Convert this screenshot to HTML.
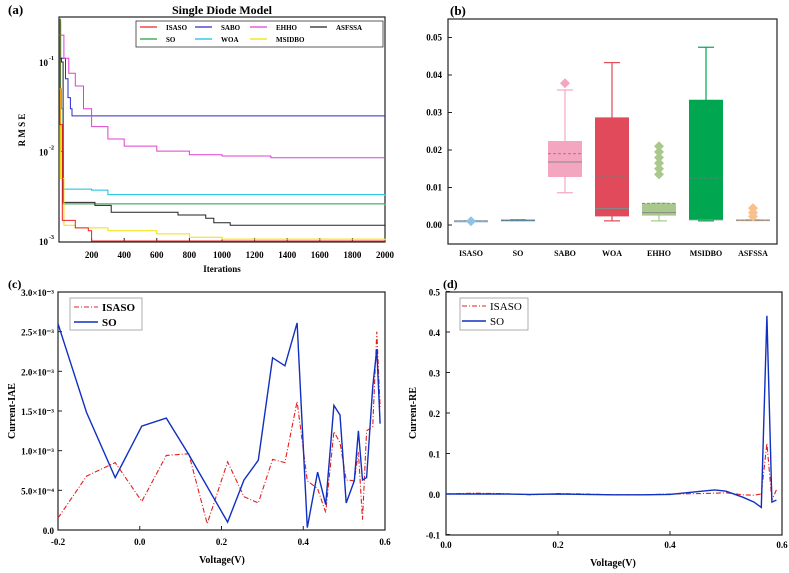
<!DOCTYPE html>
<html><head><meta charset="utf-8"><style>
body{margin:0;background:#fff}
svg{display:block;font-family:"Liberation Serif",serif;font-weight:bold}
</style></head><body>
<svg id="s" width="789" height="573" viewBox="0 0 789 573"></svg>
<script>
// ---- Panel (a) data: convergence breakpoints [iteration, RMSE]
const isasoIt=[0,5,20,100,180,200,2000];
const isasoV=[0.3,0.02,0.0017,0.0014,0.0013,0.001,0.001];
const soIt=[0,10,25,2000];const soV=[0.3,0.01,0.0026,0.0025];
const saboIt=[0,10,20,40,55,70,80,2000];const saboV=[0.28,0.11,0.11,0.065,0.04,0.03,0.025,0.025];
const woaIt=[0,8,15,25,200,300,2000];const woaV=[0.2,0.05,0.03,0.0038,0.0037,0.0033,0.0032];
const ehhoIt=[0,30,60,100,150,200,300,400,600,800,1000,1300,2000];
const ehhoV=[0.2,0.11,0.075,0.054,0.03,0.019,0.0138,0.0115,0.0101,0.0092,0.0089,0.0085,0.0085];
const msidboIt=[0,10,30,100,300,600,800,1000,2000];const msidboV=[0.05,0.005,0.0015,0.0014,0.0013,0.0012,0.0011,0.00105,0.00102];
const asfssaIt=[0,15,25,220,320,730,900,950,1050,2000];
const asfssaV=[0.11,0.1,0.0027,0.0025,0.0021,0.00195,0.0018,0.0016,0.0015,0.00148];
// ---- Panel (b) box data
const boxCats=["ISASO","SO","SABO","WOA","EHHO","MSIDBO","ASFSSA"];
const boxLo=[0.0010,0.0012,0.0086,0.0011,0.0011,0.0011,0.0012];
const boxQ1=[0.0010,0.0012,0.0128,0.0023,0.0025,0.0013,0.0012];
const boxMed=[0.0011,0.0013,0.0168,0.0044,0.0033,0.0014,0.0013];
const boxMean=[0.0011,0.0013,0.019,0.013,0.0058,0.0125,0.0013];
const boxQ3=[0.0011,0.0014,0.0224,0.0287,0.0058,0.0334,0.0014];
const boxHi=[0.0011,0.0014,0.036,0.0433,0.0058,0.0474,0.0014];
const boxOut=[[0.001],[],[0.0378],[],[0.0135,0.015,0.0165,0.018,0.0195,0.021],[],[0.0023,0.0033,0.0045]];
const boxCol=["#8dc3e8","#1f8fc8","#f4a6c0","#e04a5a","#a8c88c","#00a650","#f8c08a"];
// ---- Panel (c) IAE
const cV=[-0.2,-0.13,-0.06,0.005,0.065,0.12,0.165,0.215,0.255,0.29,0.325,0.355,0.385,0.41,0.435,0.455,0.475,0.49,0.505,0.525,0.535,0.545,0.555,0.57,0.58,0.588];
const cIsaso=[0.15,0.68,0.85,0.36,0.94,0.96,0.08,0.86,0.42,0.34,0.89,0.85,1.62,0.62,0.52,0.22,1.24,1.1,0.63,0.62,0.98,0.13,1.25,1.3,2.5,1.55];
const cSoV=[-0.2,-0.13,-0.06,0.005,0.065,0.12,0.215,0.255,0.29,0.325,0.355,0.385,0.41,0.435,0.455,0.475,0.49,0.505,0.525,0.535,0.545,0.555,0.57,0.58,0.588];
const cSo=[2.6,1.48,0.66,1.31,1.41,0.95,0.1,0.63,0.88,2.17,2.07,2.61,0.03,0.73,0.32,1.57,1.45,0.34,0.62,1.25,0.63,0.66,1.8,2.28,1.34];
// ---- Panel (d) RE
const dV=[0,0.05,0.1,0.15,0.2,0.25,0.3,0.35,0.4,0.45,0.48,0.5,0.53,0.55,0.563,0.573,0.582,0.59];
const dIsaso=[0,0.002,0.001,-0.002,0.001,0,-0.002,-0.002,0,0.001,0.002,0.003,-0.002,-0.003,0.0,0.125,-0.015,0.01];
const dSo=[0,0,0,-0.001,0,-0.001,-0.002,-0.002,-0.001,0.006,0.01,0.007,-0.008,-0.02,-0.033,0.44,-0.02,-0.015];

const S=document.getElementById('s');const NS="http://www.w3.org/2000/svg";
function el(t,a,txt){const e=document.createElementNS(NS,t);for(const k in a)e.setAttribute(k,a[k]);if(txt!=null)e.textContent=txt;S.appendChild(e);return e;}
function text(x,y,s,sz,anchor,name,extra){const e=el('text',Object.assign({x:x,y:y,'font-size':sz,'text-anchor':anchor||'middle'},extra||{}),s);

return e;}
function frame(x0,y0,x1,y1,name){const e=el('rect',{x:x0,y:y0,width:x1-x0,height:y1-y0,fill:'none',stroke:'#222','stroke-width':1.2});

}
function poly(pts,col,w,dash,name){const e=el('polyline',{points:pts.map(p=>p[0].toFixed(1)+','+p[1].toFixed(1)).join(' '),fill:'none',stroke:col,'stroke-width':w});if(dash)e.setAttribute('stroke-dasharray',dash);

}

// ===== Panel a
const ax=i=>59+i/2000*326, ay=v=>241-(Math.log10(v)+3)*89.5;
frame(59,17,385,242,'panel-a-frame');
text(8,14,'(a)',13,'start','panel-a-label');
text(222,14,'Single Diode Model',12,'middle','panel-a-title');
for(let i=200;i<=2000;i+=200){text(ax(i),258,String(i),9,'middle','x-tick-a');el('line',{x1:ax(i),x2:ax(i),y1:242,y2:238,stroke:'#222'});}
[[-1,'10'],[-2,'10'],[-3,'10']].forEach(d=>{const y=241-(d[0]+3)*89.5;text(48,y+4,'10',9,'end','y-tick-a');text(49,y-2,String(d[0]),6,'start','y-tick-exp-a');});
text(222,272,'Iterations',9,'middle','x-axis-title-a');
text(25,130,'R M S E',9,'middle','y-axis-title-a',{transform:'rotate(-90 25 130)'});
function stepPts(it,v){const p=[];for(let i=0;i<it.length;i++){if(i>0)p.push([ax(it[i]),ay(v[i-1])]);p.push([ax(it[i]),ay(Math.min(v[i],0.33))]);}return p;}
const series=[[saboIt,saboV,'#2b2bd0','sabo'],[ehhoIt,ehhoV,'#e040d0','ehho'],[woaIt,woaV,'#10c0e0','woa'],[soIt,soV,'#20a040','so'],[asfssaIt,asfssaV,'#222','asfssa'],[msidboIt,msidboV,'#f0e000','msidbo'],[isasoIt,isasoV,'#f02020','isaso']];
series.forEach(s=>poly(stepPts(s[0],s[1]),s[2],1.0,null,'line-'+s[3]));
const lg=el('rect',{x:136,y:21,width:247,height:26,fill:'#fff',stroke:'#333','stroke-width':0.8});

[['ISASO','#f02020',140,30],['SABO','#2b2bd0',195,30],['EHHO','#e040d0',250,30],['ASFSSA','#222',310,30],['SO','#20a040',140,42],['WOA','#10c0e0',195,42],['MSIDBO','#f0e000',250,42]].forEach(l=>{
el('line',{x1:l[2],x2:l[2]+17,y1:l[3]-3,y2:l[3]-3,stroke:l[1],'stroke-width':1.2});text(l[2]+26,l[3],l[0],7,'start','legend-entry-'+l[0].toLowerCase());});

// ===== Panel b
const bx=i=>471+i*47, by=v=>225-v/0.01*37.5;
frame(448,19,777,244,'panel-b-frame');
text(450,15,'(b)',13,'start','panel-b-label');
for(let t=0;t<=5;t++){const y=by(t*0.01);text(442,y+3,(t*0.01).toFixed(2),9,'end','y-tick-b');el('line',{x1:448,x2:452,y1:y,y2:y,stroke:'#222'});}
boxCats.forEach((c,i)=>{const x=bx(i),w=17,col=boxCol[i];
text(x,256,c,8,'middle','x-tick-b');
const wl=el('line',{x1:x,x2:x,y1:by(boxHi[i]),y2:by(boxLo[i]),stroke:col,'stroke-width':1.2});

el('line',{x1:x-8,x2:x+8,y1:by(boxHi[i]),y2:by(boxHi[i]),stroke:col,'stroke-width':1.2});
el('line',{x1:x-8,x2:x+8,y1:by(boxLo[i]),y2:by(boxLo[i]),stroke:col,'stroke-width':1.2});
const r=el('rect',{x:x-w,y:by(boxQ3[i]),width:2*w,height:Math.max(1.5,by(boxQ1[i])-by(boxQ3[i])),fill:col});

el('line',{x1:x-w,x2:x+w,y1:by(boxMed[i]),y2:by(boxMed[i]),stroke:'#888','stroke-width':1});
el('line',{x1:x-w,x2:x+w,y1:by(boxMean[i]),y2:by(boxMean[i]),stroke:'#777','stroke-width':0.8,'stroke-dasharray':'3,2'});
boxOut[i].forEach(o=>{const y=by(o);const d=el('polygon',{points:`${x},${y-5} ${x+5},${y} ${x},${y+5} ${x-5},${y}`,fill:col});
});
});

// ===== Panel c
const cx=v=>58+(v+0.2)/0.8*327, cy=v=>530-v/3*238;
frame(58,292,385,530,'panel-c-frame');
text(8,288,'(c)',12,'start','panel-c-label');
['0.0','5.0×10⁻⁴','1.0×10⁻³','1.5×10⁻³','2.0×10⁻³','2.5×10⁻³','3.0×10⁻³'].forEach((l,k)=>{const y=cy(k*0.5);text(54,y+4,l,9,'end','y-tick-c');el('line',{x1:58,x2:62,y1:y,y2:y,stroke:'#222'});});
['-0.2','0.0','0.2','0.4','0.6'].forEach((l,k)=>{const x=cx(-0.2+k*0.2);text(x,545,l,9,'middle','x-tick-c');el('line',{x1:x,x2:x,y1:530,y2:526,stroke:'#222'});});
text(222,563,'Voltage(V)',10,'middle','x-axis-title-c');
text(15,411,'Current-IAE',10,'middle','y-axis-title-c',{transform:'rotate(-90 15 411)'});
poly(cV.map((v,i)=>[cx(v),cy(cIsaso[i])]),'#e02020',1.1,'5,2,1,2','line-c-isaso');
poly(cSoV.map((v,i)=>[cx(v),cy(cSo[i])]),'#1030c0',1.4,null,'line-c-so');
const lc=el('rect',{x:70,y:298,width:72,height:32,fill:'#fff',stroke:'#999','stroke-width':0.8});

el('line',{x1:74,x2:98,y1:307,y2:307,stroke:'#e02020','stroke-width':1.1,'stroke-dasharray':'5,2,1,2'});text(102,311,'ISASO',11,'start','legend-entry-isaso-c');
el('line',{x1:74,x2:98,y1:322,y2:322,stroke:'#1030c0','stroke-width':1.4});text(102,326,'SO',11,'start','legend-entry-so-c');

// ===== Panel d
const dx=v=>446+v/0.6*336, dy=v=>494-v/0.1*40.5;
frame(446,292,782,535,'panel-d-frame');
text(443,288,'(d)',12,'start','panel-d-label');
[-0.1,0,0.1,0.2,0.3,0.4,0.5].forEach(t=>{const y=dy(t);text(440,y+4,t.toFixed(1),9,'end','y-tick-d');el('line',{x1:446,x2:450,y1:y,y2:y,stroke:'#222'});});
[0,0.2,0.4,0.6].forEach(t=>{const x=dx(t);text(x,548,t.toFixed(1),9,'middle','x-tick-d');el('line',{x1:x,x2:x,y1:535,y2:531,stroke:'#222'});});
text(613,566,'Voltage(V)',10,'middle','x-axis-title-d');
text(416,413,'Current-RE',10,'middle','y-axis-title-d',{transform:'rotate(-90 416 413)'});
poly(dV.map((v,i)=>[dx(v),dy(dIsaso[i])]),'#e02020',1.1,'5,2,1,2','line-d-isaso');
poly(dV.map((v,i)=>[dx(v),dy(dSo[i])]),'#1030c0',1.4,null,'line-d-so');
const ld=el('rect',{x:460,y:298,width:68,height:32,fill:'#fff',stroke:'#999','stroke-width':0.8});

el('line',{x1:462,x2:486,y1:306,y2:306,stroke:'#e02020','stroke-width':1.1,'stroke-dasharray':'5,2,1,2'});text(490,310,'ISASO',11,'start','legend-entry-isaso-d',{'font-weight':'normal'});
el('line',{x1:462,x2:486,y1:321,y2:321,stroke:'#1030c0','stroke-width':1.4});text(490,325,'SO',11,'start','legend-entry-so-d',{'font-weight':'normal'});
</script>
</body></html>
